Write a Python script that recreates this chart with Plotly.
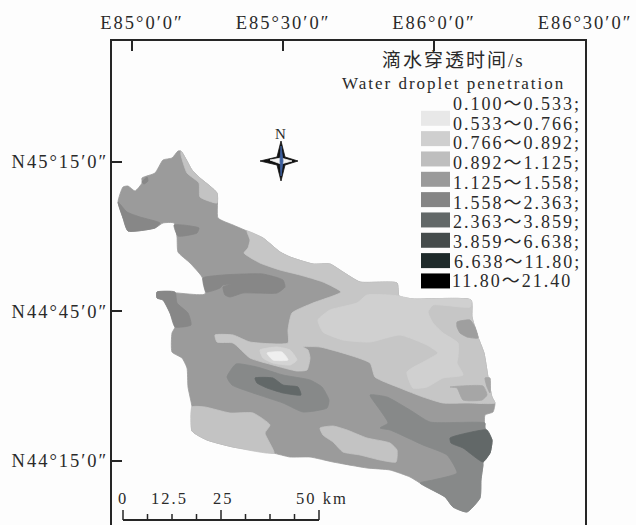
import plotly.graph_objects as go

# Class names and fill colours of the map legend
class_labels = ["0.100～0.533;", "0.533～0.766;", "0.766～0.892;", "0.892～1.125;", "1.125～1.558;",
                "1.558～2.363;", "2.363～3.859;", "3.859～6.638;", "6.638～11.80;", "11.80～21.40"]
swatch_colors = ["#e8e8e8", "#cfcfcf", "#bebebe", "#9a9a9a", "#858585", "#626868", "#454c4c", "#1e2a2a", "#000000"]

x_tick_vals = [85.0, 85.5, 86.0, 86.5]
x_tick_text = ["\u00a0\u00a0\u00a0E85°0′0″", "E85°30′0″", "E86°0′0″", "E86°30′0″"]
y_tick_vals = [45.25, 44.75, 44.25]
y_tick_text = ["N45°15′0″", "N44°45′0″", "N44°15′0″"]

scale_km = [0, 6.25, 12.5, 18.75, 25, 31.25, 37.5, 43.75, 50]
scale_labels = ["0", "12.5", "25", "50 km"]

outline = [(178,151),(181,151),(187,161),(192,170),(200,178),(217,193),(218,218),(233,225),(247,231),(263,238),(280,252),(290,257),(313,264),(330,264),(343,272),(360,282),(397,283),(399,296),(413,299),(471,300),(472,317),(478,337),(484,353),(488,377),(492,397),(495,403),(493,412),(485,415),(485,428),(492,440),(490,453),(483,462),(483,465),(481,480),(480,498),(467,512),(453,507),(445,497),(420,483),(410,477),(390,470),(367,468),(333,462),(310,457),(290,457),(273,453),(233,447),(207,440),(192,431),(192,407),(188,387),(187,368),(182,358),(172,352),(172,333),(175,327),(170,313),(163,300),(157,298),(157,292),(205,294),(202,277),(190,263),(178,252),(177,237),(174,223),(163,223),(155,228),(128,231),(123,218),(118,202),(123,187),(128,186),(135,191),(142,183),(142,178),(155,173),(163,160),(172,158)]
light_ne = [(181,151),(187,161),(192,170),(200,178),(217,193),(217,203),(200,197),(199,183),(187,173),(181,155)]
light_main = [(247,231),(263,238),(280,252),(290,257),(313,264),(330,264),(343,272),(360,282),(397,283),(399,296),(413,299),(471,300),(472,317),(478,337),(484,353),(488,377),(492,397),(495,403),(467,403),(443,403),(423,397),(400,388),(375,377),(370,363),(320,347),(303,347),(308,350),(310,358),(307,370),(297,371),(273,365),(250,358),(233,343),(217,342),(215,335),(233,335),(250,342),(288,343),(288,330),(292,313),(313,303),(341,292),(323,282),(300,275),(280,270),(260,263),(244,253),(248,248),(250,240)]
lighter_main = [(428,312),(433,323),(443,333),(458,343),(458,357),(457,363),(463,375),(443,378),(427,387),(413,388),(407,372),(427,360),(438,353),(427,345),(400,335),(370,342),(343,340),(323,332),(318,320),(330,310),(357,303),(367,295),(388,295),(399,296),(413,299),(471,300),(470,307),(433,305)]
light_south = [(320,428),(333,426),(347,430),(367,438),(390,443),(397,450),(396,462),(380,460),(360,455),(343,452),(333,442),(323,435)]
light_sw = [(192,407),(205,407),(230,413),(253,413),(270,425),(265,433),(274,453),(233,447),(207,440),(192,431)]
mid_e1 = [(457,322),(470,320),(475,327),(478,338),(467,337),(460,333),(457,327)]
mid_e2 = [(450,387),(483,386),(487,395),(482,400),(463,400),(457,388)]
mid_e3 = [(485,378),(490,378),(490,393),(487,387)]
dark_nw = [(118,202),(127,212),(140,217),(160,223),(155,228),(128,231),(123,218)]
dark_spot = [(142,182),(147,177),(148,181),(144,184)]
dark_n = [(174,225),(183,225),(199,228),(197,233),(178,236)]
dark_long = [(203,278),(223,275),(243,274),(263,274),(283,280),(285,287),(277,293),(243,293),(230,297),(225,295),(223,287),(232,284),(223,285),(220,288),(206,292)]
dark_w = [(157,292),(175,292),(177,303),(188,313),(191,325),(175,327),(170,313),(163,300),(157,298)]
dark_centre = [(236,364),(257,367),(283,375),(310,380),(322,387),(329,400),(327,408),(303,412),(283,403),(253,393),(232,385),(227,377)]
dark_se = [(370,395),(387,397),(410,410),(430,422),(485,423),(485,428),(492,440),(490,453),(483,462),(483,465),(481,480),(480,498),(467,512),(453,507),(445,497),(420,483),(433,480),(457,473),(447,455),(423,445),(390,430),(380,428),(388,423),(380,410)]
darker_centre = [(255,378),(273,378),(283,385),(298,387),(301,395),(283,393),(267,388),(257,383)]
darker_se = [(450,438),(467,433),(487,430),(492,440),(490,453),(483,462),(463,448),(451,443)]
pale_ring = [(260,350),(277,347),(290,350),(297,360),(290,365),(273,363),(263,358)]
pale_core = [(267,353),(282,352),(288,360),(273,360)]

zones = [
    (outline, "#9b9b9b"), (light_ne, "#c3c3c3"), (light_main, "#c6c6c6"), (lighter_main, "#d0d0d0"),
    (light_south, "#c3c3c3"), (light_sw, "#c3c3c3"), (mid_e1, "#9f9f9f"), (mid_e2, "#a6a6a6"), (mid_e3, "#a6a6a6"),
    (dark_nw, "#878787"), (dark_spot, "#878787"), (dark_n, "#878787"), (dark_long, "#878787"), (dark_w, "#878787"),
    (dark_centre, "#878989"), (dark_se, "#878989"), (darker_centre, "#626868"), (darker_se, "#626868"),
    (pale_ring, "#d4d4d4"), (pale_core, "#efefef"),
]

star_outer = [(281,141),(285,157),(298,161),(285,165),(281,181),(277,165),(260,161),(277,157)]
star_white = [(270,160),(281,158),(292,161),(281,164)]
star_blue = [(281,146),(283,161),(281,176),(280,161)]


def lon(px):
    return 85 + (px - 132) / 302


def lat(py):
    return 45.25 - (py - 162) / 298.6


def xs(pts):
    return [lon(p[0]) for p in pts]


def ys(pts):
    return [lat(p[1]) for p in pts]


INK = "#262626"
FONT = "Liberation Serif"
fig = go.Figure()


def poly(pts, fill, smooth=True):
    line = dict(color=fill, width=0.8)
    if smooth:
        line.update(shape="spline", smoothing=0.5)
    fig.add_trace(go.Scatter(x=xs(pts + pts[:1]), y=ys(pts + pts[:1]), mode="lines", fill="toself", fillcolor=fill,
                             line=line, hoverinfo="skip", showlegend=False))


for pts, col in zones:
    poly(pts, col)
poly(star_outer, "#111111", False)
poly(star_white, "#f4f4f4", False)
poly(star_blue, "#3d5f9e", False)

# Scale bar
bar_x0, bar_y, km_px = 123, 520, 196 / 50
fig.add_trace(go.Scatter(x=[lon(bar_x0), lon(bar_x0 + 50 * km_px)], y=[lat(bar_y)] * 2, mode="lines",
                         line=dict(color=INK, width=2), hoverinfo="skip", showlegend=False))
for km in scale_km:
    top = 510 if km in (0, 25, 50) else 514
    fig.add_trace(go.Scatter(x=[lon(bar_x0 + km * km_px)] * 2, y=[lat(top), lat(bar_y)], mode="lines",
                             line=dict(color=INK, width=1.5), hoverinfo="skip", showlegend=False))

ann = []


def text(px, py, s, size=18):
    ann.append(dict(x=lon(px), y=lat(py), text=s, showarrow=False, xanchor="center", yanchor="middle",
                    font=dict(family=FONT + ", Noto Sans CJK SC", size=size, color="#2a2a2a")))


text(453, 60, "滴水穿透时间/s", 19)
text(454, 83, "Water droplet penetration", 17)
for i, lab in enumerate(class_labels):
    text(517 if i < 9 else 512, 104 + 19.7 * i, lab, 18)
text(281, 134, "N", 15)
for px, lab in zip([123, 169, 223, 322], scale_labels):
    text(px, 498, lab, 16.5)

shapes = []
for i, col in enumerate(swatch_colors):
    cy = 118.3 + 20.33 * i
    shapes.append(dict(type="rect", xref="x", yref="y", x0=lon(421), x1=lon(450), y0=lat(cy - 7.5), y1=lat(cy + 7.5),
                       fillcolor=col, line=dict(width=0)))

fig.update_layout(
    width=636, height=525, autosize=False,
    margin=dict(l=112, r=51, t=41, b=0, pad=0),
    paper_bgcolor="#fdfdfd", plot_bgcolor="#fdfdfd",
    annotations=ann, shapes=shapes, showlegend=False,
    font=dict(family=FONT, size=18.5, color="#2a2a2a"),
)
fig.update_xaxes(range=[lon(112), lon(585)], side="top", tickvals=x_tick_vals, ticktext=x_tick_text,
                 ticks="inside", ticklen=10, tickwidth=1.5, tickcolor=INK, showgrid=False, zeroline=False,
                 showline=True, linecolor=INK, linewidth=2, ticklabelstandoff=3)
fig.update_yaxes(range=[lat(525), lat(41)], tickvals=y_tick_vals, ticktext=y_tick_text,
                 ticks="inside", ticklen=10, tickwidth=1.5, tickcolor=INK, showgrid=False, zeroline=False,
                 showline=True, linecolor=INK, linewidth=2, mirror=True, ticklabelstandoff=-2)

style_js = ("var s=document.createElement('style');"
            "s.textContent='body{margin:0}.main-svg text{letter-spacing:2px}';document.head.appendChild(s);")
fig.write_html("out.html", post_script=style_js, config={"displayModeBar": False})
